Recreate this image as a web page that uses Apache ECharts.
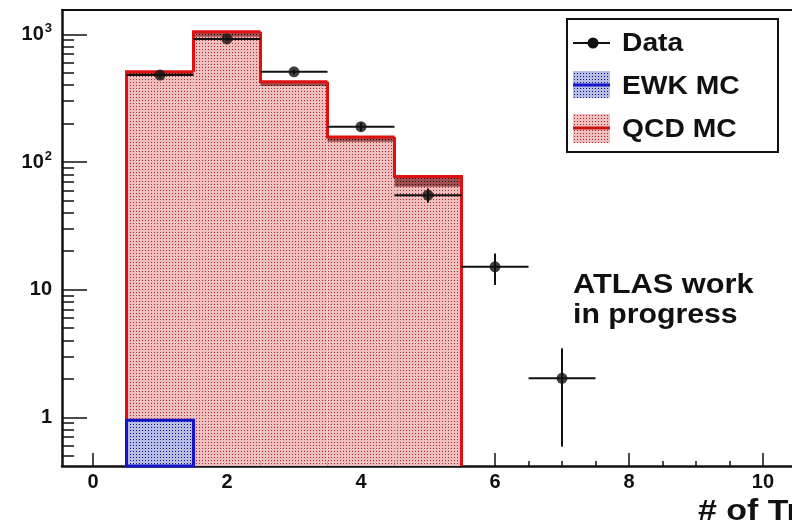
<!DOCTYPE html>
<html>
<head>
<meta charset="utf-8">
<script src="https://cdn.jsdelivr.net/npm/echarts@6/dist/echarts.min.js"></script>
<style>
html, body { margin: 0; padding: 0; background: #fff; }
#main { width: 792px; height: 523px; }
</style>
</head>
<body>
<div id="main"></div>
<script>
// histogram bins (number of tracks)
var binLow = [0.5, 1.5, 2.5, 3.5, 4.5];
var binHigh = [1.5, 2.5, 3.5, 4.5, 5.5];
var qcdValues = [508, 1047, 425, 157, 77];
var qcdBandLow = [471, 955, 394, 144, 64];
var ewkLow = [0.5];
var ewkHigh = [1.5];
var ewkValues = [0.95];
// data points
var dataX = [1, 2, 3, 4, 5, 6, 7];
var dataValues = [479, 920, 508, 189, 55, 15.1, 2.02];
var dataErrLow = [457, 890, 485, 175, 48, 10.9, 0.59];
var dataErrHigh = [501, 950, 531, 203, 62, 19.2, 3.47];
var dataHalfWidth = [0.5, 0.5, 0.5, 0.5, 0.5, 0.5, 0.5];
// tick labels
var xTickLabels = [0, 2, 4, 6, 8, 10];
var yTickLabels = [1, 10, 100, 1000];

// the frame runs past the right edge of the picture
var X_MIN = -0.463, X_MAX = 10.433;
var Y_MIN = 0.416, Y_MAX = 1550;
var FONT = '"Liberation Sans", Arial, Helvetica, sans-serif';

var xMinor = [];
for (var i = 1; i <= 21; i++) {
    if (i % 4 !== 0) xMinor.push(i * 0.5);
}
var yMinor = [];
[0.1, 1, 10, 100].forEach(function (d) {
    for (var k = 2; k <= 9; k++) {
        var v = +(k * d).toPrecision(3);
        if (v >= Y_MIN && v <= Y_MAX) yMinor.push(v);
    }
});

function dotPattern(bg, dot) {
    var c = document.createElement('canvas');
    c.width = 3; c.height = 3;
    var g = c.getContext('2d');
    g.fillStyle = bg;
    g.fillRect(0, 0, 3, 3);
    g.fillStyle = dot;
    g.fillRect(1, 1, 1, 1);
    return {image: c, repeat: 'repeat'};
}
var qcdFill = dotPattern('#efbebe', '#a82a2a');
var bandFill = dotPattern('#a05050', '#1a0000');
var ewkFill = dotPattern('#b8bde6', '#0c1280');

var chart = echarts.init(document.getElementById('main'), null, {renderer: 'canvas'});

function histItem(lows, highs, vals, fill, stroke, bandLows, bandFill) {
    return function (params, api) {
        var i = params.dataIndex;
        var tl = api.coord([lows[i], vals[i]]);
        var br = api.coord([highs[i], Y_MIN]);
        var children = [{
            type: 'rect',
            shape: {x: tl[0], y: tl[1], width: br[0] - tl[0], height: br[1] - tl[1]},
            style: {fill: fill}
        }];
        if (bandLows) {
            var bl = api.coord([lows[i], bandLows[i]]);
            children.push({
                type: 'rect',
                shape: {x: tl[0], y: tl[1], width: br[0] - tl[0], height: bl[1] - tl[1]},
                style: {fill: bandFill}
            });
        }
        // step outline
        var prevY = i > 0 ? api.coord([lows[i], vals[i - 1]])[1] : br[1];
        var pts = [[tl[0], prevY], [tl[0], tl[1]], [br[0], tl[1]]];
        if (i === vals.length - 1) pts.push([br[0], br[1]]);
        children.push({
            type: 'polyline',
            shape: {points: pts},
            style: {stroke: stroke, lineWidth: 3, fill: null}
        });
        return {type: 'group', children: children};
    };
}

var option = {
    backgroundColor: '#fff',
    animation: false,
    grid: {left: 62, top: 10, right: 0, bottom: 57, show: false},
    xAxis: [{
        type: 'value', min: X_MIN, max: X_MAX, position: 'bottom',
        axisLine: {onZero: false, lineStyle: {color: '#111', width: 2.5}},
        axisTick: {inside: true, length: 13, customValues: xTickLabels, lineStyle: {color: '#111', width: 1.5}},
        axisLabel: {
            customValues: xTickLabels, margin: 6, color: '#111',
            fontFamily: FONT, fontWeight: 'bold', fontSize: 20
        },
        splitLine: {show: false}
    }, {
        type: 'value', min: X_MIN, max: X_MAX, position: 'bottom',
        axisLine: {show: false, onZero: false},
        axisTick: {inside: true, length: 5, customValues: xMinor, lineStyle: {color: '#111', width: 1.5}},
        axisLabel: {show: false},
        splitLine: {show: false}
    }, {
        // top frame line
        type: 'value', min: X_MIN, max: X_MAX, position: 'top',
        axisLine: {show: true, onZero: false, lineStyle: {color: '#111', width: 2}},
        axisTick: {show: false},
        axisLabel: {show: false},
        splitLine: {show: false}
    }],
    yAxis: [{
        type: 'log', logBase: 10, min: Y_MIN, max: Y_MAX, position: 'left',
        axisLine: {show: true, onZero: false, lineStyle: {color: '#111', width: 2.5}},
        axisTick: {show: true, inside: true, length: 25, customValues: yTickLabels, lineStyle: {color: '#111', width: 1.5}},
        axisLabel: {
            customValues: yTickLabels, margin: 10, color: '#111',
            fontFamily: FONT, fontWeight: 'bold', fontSize: 20,
            formatter: function (v) {
                v = Math.round(v);
                if (v >= 100) return '10{s|' + Math.round(Math.log10(v)) + '}';
                return String(v);
            },
            rich: {
                s: {fontFamily: FONT, fontWeight: 'bold', fontSize: 13, color: '#111', padding: [0, 0, 11, 1]}
            }
        },
        splitLine: {show: false}
    }, {
        type: 'log', logBase: 10, min: Y_MIN, max: Y_MAX, position: 'left',
        axisLine: {show: false, onZero: false},
        axisTick: {show: true, inside: true, length: 12, customValues: yMinor, lineStyle: {color: '#111', width: 1.5}},
        axisLabel: {show: false},
        splitLine: {show: false}
    }],
    series: [{
        name: 'QCD MC',
        type: 'custom',
        xAxisIndex: 0, yAxisIndex: 0,
        renderItem: histItem(binLow, binHigh, qcdValues, qcdFill, '#e01010', qcdBandLow, bandFill),
        data: binLow.map(function (lo, i) { return [lo, binHigh[i], qcdValues[i]]; }),
        z: 2
    }, {
        name: 'EWK MC',
        type: 'custom',
        xAxisIndex: 0, yAxisIndex: 0,
        renderItem: function (params, api) {
            var i = params.dataIndex;
            var tl = api.coord([ewkLow[i], ewkValues[i]]);
            var br = api.coord([ewkHigh[i], Y_MIN]);
            return {
                type: 'rect',
                shape: {x: tl[0], y: tl[1], width: br[0] - tl[0], height: br[1] - tl[1]},
                style: {fill: ewkFill, stroke: '#1414c8', lineWidth: 3}
            };
        },
        data: ewkLow.map(function (lo, i) { return [lo, ewkHigh[i], ewkValues[i]]; }),
        z: 3
    }, {
        name: 'Data errors',
        type: 'custom',
        xAxisIndex: 0, yAxisIndex: 0,
        clip: false,
        renderItem: function (params, api) {
            var i = params.dataIndex;
            var l = api.coord([dataX[i] - dataHalfWidth[i], dataValues[i]]);
            var r = api.coord([dataX[i] + dataHalfWidth[i], dataValues[i]]);
            var t = api.coord([dataX[i], dataErrHigh[i]]);
            var b = api.coord([dataX[i], dataErrLow[i]]);
            return {
                type: 'group',
                children: [{
                    type: 'line', shape: {x1: l[0], y1: l[1], x2: r[0], y2: r[1]},
                    style: {stroke: '#111', lineWidth: 2}
                }, {
                    type: 'line', shape: {x1: t[0], y1: t[1], x2: b[0], y2: b[1]},
                    style: {stroke: '#111', lineWidth: 2}
                }]
            };
        },
        data: dataX.map(function (x, i) { return [x, dataValues[i]]; }),
        z: 4
    }, {
        name: 'Data',
        type: 'scatter',
        xAxisIndex: 0, yAxisIndex: 0,
        symbol: 'circle', symbolSize: 11,
        itemStyle: {color: '#111'},
        data: dataX.map(function (x, i) { return [x, dataValues[i]]; }),
        z: 5
    }],
    graphic: [
        {type: 'rect', shape: {x: 567, y: 19, width: 211, height: 133}, style: {fill: '#fff', stroke: '#111', lineWidth: 2}, z: 10},
        {type: 'line', shape: {x1: 573, y1: 43, x2: 610, y2: 43}, style: {stroke: '#111', lineWidth: 2}, z: 11},
        {type: 'circle', shape: {cx: 593, cy: 43, r: 5.5}, style: {fill: '#111'}, z: 11},
        {type: 'rect', shape: {x: 573, y: 71, width: 37, height: 27}, style: {fill: ewkFill}, z: 11},
        {type: 'line', shape: {x1: 573, y1: 85, x2: 610, y2: 85}, style: {stroke: '#1414c8', lineWidth: 3}, z: 12},
        {type: 'rect', shape: {x: 573, y: 114, width: 37, height: 29}, style: {fill: qcdFill}, z: 11},
        {type: 'line', shape: {x1: 573, y1: 128, x2: 610, y2: 128}, style: {stroke: '#c81010', lineWidth: 3}, z: 12},
        {type: 'text', x: 622, y: 44, scaleX: 1.13, z: 12,
            style: {text: 'Data', font: 'bold 25px ' + FONT, fill: '#111', textVerticalAlign: 'middle'}},
        {type: 'text', x: 622, y: 87, scaleX: 1.13, z: 12,
            style: {text: 'EWK MC', font: 'bold 25px ' + FONT, fill: '#111', textVerticalAlign: 'middle'}},
        {type: 'text', x: 622, y: 130, scaleX: 1.13, z: 12,
            style: {text: 'QCD MC', font: 'bold 25px ' + FONT, fill: '#111', textVerticalAlign: 'middle'}},
        {type: 'text', x: 573, y: 286, scaleX: 1.14, z: 12,
            style: {text: 'ATLAS work', font: 'bold 27px ' + FONT, fill: '#111', textVerticalAlign: 'middle'}},
        {type: 'text', x: 573, y: 316, scaleX: 1.12, z: 12,
            style: {text: 'in progress', font: 'bold 27px ' + FONT, fill: '#111', textVerticalAlign: 'middle'}},
        {type: 'text', x: 698, y: 512, scaleX: 1.13, z: 12,
            style: {text: '# of Tracks', font: 'bold 30px ' + FONT, fill: '#111', textVerticalAlign: 'middle'}}
    ]
};
chart.setOption(option);
</script>
</body>
</html>
